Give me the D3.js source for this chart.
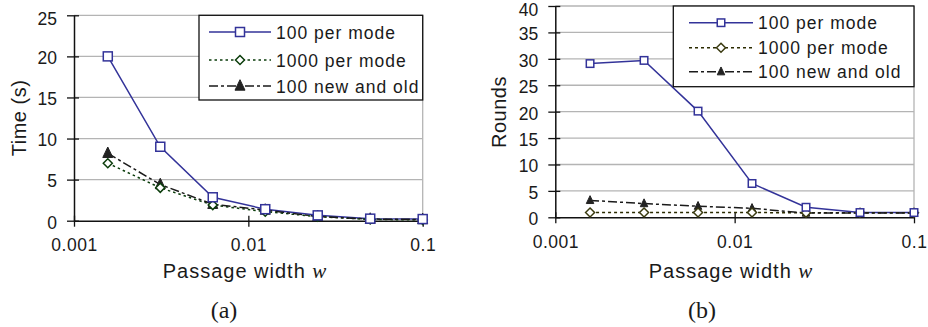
<!DOCTYPE html>
<html>
<head>
<meta charset="utf-8">
<script src="https://cdn.jsdelivr.net/npm/d3@7"></script>
<style>
  html, body { margin: 0; padding: 0; background: #fff; }
  svg { display: block; }
  text { font-family: "Liberation Sans", Arial, sans-serif; fill: #1a1a1a; }
</style>
</head>
<body>
<svg id="chart" width="928" height="327"></svg>
<script>
// ---- data ----
const passageWidths = [0.0015625, 0.003125, 0.00625, 0.0125, 0.025, 0.05, 0.1];
const seriesNames = ["100 per mode", "1000 per mode", "100 new and old"];
const timePerMode100 = [20.0, 9.0, 2.85, 1.4, 0.65, 0.25, 0.2];
const timePerMode1000 = [7.0, 4.0, 1.9, 1.1, 0.5, 0.15, 0.1];
const timeNewOld100 = [8.2, 4.4, 2.0, 1.3, 0.5, 0.2, 0.15];
const roundsPerMode100 = [29.1, 29.7, 20.1, 6.4, 1.9, 0.9, 0.9];
const roundsPerMode1000 = [0.9, 0.9, 0.9, 0.9, 0.85, 0.85, 0.85];
const roundsNewOld100 = [3.2, 2.6, 2.1, 1.7, 0.8, 0.8, 0.8];
const xTicks = [0.001, 0.01, 0.1];
const xTickLabels = ["0.001", "0.01", "0.1"];
const timeTicks = [0, 5, 10, 15, 20, 25];
const roundsTicks = [0, 5, 10, 15, 20, 25, 30, 35, 40];

const svg = d3.select("#chart");

function drawPanel(cfg) {
  const g = svg.append("g");
  const x = d3.scaleLog().domain([0.001, 0.1]).range([cfg.left, cfg.right]);
  const y = d3.scaleLinear().domain([0, cfg.yMax]).range([cfg.bottom, cfg.top]);

  // gridlines
  g.append("g").selectAll("line").data(cfg.yTicks.filter(d => d > 0)).join("line")
    .attr("x1", cfg.left).attr("x2", cfg.right)
    .attr("y1", d => y(d)).attr("y2", d => y(d))
    .attr("stroke", "#b4b4b4").attr("stroke-width", 1.3);
  // right border
  g.append("line").attr("x1", cfg.right).attr("x2", cfg.right)
    .attr("y1", cfg.top).attr("y2", cfg.bottom)
    .attr("stroke", "#b4b4b4").attr("stroke-width", 1.3);

  // y axis
  const yAxis = d3.axisLeft(y).tickValues(cfg.yTicks).tickSize(7).tickPadding(10).tickSizeOuter(0);
  const ya = g.append("g").attr("transform", `translate(${cfg.left},0)`).call(yAxis);
  ya.select(".domain").attr("stroke", "#111").attr("stroke-width", 1.5);
  ya.selectAll(".tick line").attr("stroke", "#111").attr("stroke-width", 1.3).attr("x2", -7).attr("x1", 5);
  ya.selectAll(".tick text").attr("font-size", 17.5).attr("fill", "#1a1a1a")
    .attr("font-family", "Liberation Sans, Arial, sans-serif").attr("x", -17)
    .attr("dy", d => d === cfg.yMax ? "0.55em" : "0.42em");

  // x axis
  const xAxis = d3.axisBottom(x).tickValues(xTicks).tickFormat((d, i) => xTickLabels[i])
    .tickSize(6).tickPadding(12).tickSizeOuter(0);
  const xa = g.append("g").attr("transform", `translate(0,${cfg.bottom})`).call(xAxis);
  xa.select(".domain").attr("stroke", "#111").attr("stroke-width", 1.5);
  xa.selectAll(".tick line").attr("stroke", "#111").attr("stroke-width", 1.3).attr("y1", -5);
  xa.selectAll(".tick text").attr("font-size", 17.5).attr("fill", "#1a1a1a")
    .attr("font-family", "Liberation Sans, Arial, sans-serif").attr("letter-spacing", 0.5);

  // series
  const line = d3.line().x(d => x(d[0])).y(d => y(d[1]));
  cfg.series.forEach(s => {
    const pts = passageWidths.map((w, i) => [w, s.values[i]]);
    g.append("path").datum(pts).attr("d", line)
      .attr("fill", "none").attr("stroke", s.color).attr("stroke-width", s.width)
      .attr("stroke-dasharray", s.dash || null);
  });
  cfg.series.slice().reverse().forEach(s => {
    passageWidths.forEach((w, i) => drawMarker(g, s, x(w), y(s.values[i])));
  });

  // axis titles
  const xt = g.append("text").attr("x", cfg.xTitleX).attr("y", cfg.xTitleY)
    .attr("text-anchor", "middle").attr("font-size", 20).attr("letter-spacing", 1);
  xt.append("tspan").text("Passage width ");
  xt.append("tspan").text("w").attr("font-family", "Liberation Serif, Times New Roman, serif")
    .attr("font-style", "italic").attr("font-size", 21);
  g.append("text").attr("transform", `translate(${cfg.yTitleX},${cfg.yTitleY}) rotate(-90)`)
    .attr("text-anchor", "middle").attr("font-size", 20).attr("letter-spacing", 0.5).text(cfg.yTitle);

  // panel label
  g.append("text").attr("x", cfg.labelX).attr("y", 318).attr("text-anchor", "middle")
    .style("font-family", "'Liberation Serif','Times New Roman',serif").style("font-size", "24px")
    .text(cfg.label);

  // legend
  const L = cfg.legend;
  g.append("rect").attr("x", L.x0).attr("y", L.y0).attr("width", L.x1 - L.x0).attr("height", L.y1 - L.y0)
    .attr("fill", "#fff").attr("stroke", "#111").attr("stroke-width", 1.3);
  cfg.series.forEach((s, i) => {
    const yy = L.rows[i];
    g.append("line").attr("x1", L.lx0).attr("x2", L.lx1).attr("y1", yy).attr("y2", yy)
      .attr("stroke", s.color).attr("stroke-width", s.width).attr("stroke-dasharray", s.dash || null);
    drawMarker(g, s, (L.lx0 + L.lx1) / 2, yy, true);
    g.append("text").attr("x", L.tx).attr("y", yy + 6.5).attr("font-size", 17.5)
      .attr("letter-spacing", 1).text(seriesNames[i]);
  });
}

function drawMarker(g, s, cx, cy) {
  const r = s.size / 2;
  if (s.marker === "square") {
    g.append("rect").attr("x", cx - r).attr("y", cy - r).attr("width", s.size).attr("height", s.size)
      .attr("fill", "#fff").attr("stroke", s.color).attr("stroke-width", 1.5);
  } else if (s.marker === "diamond") {
    g.append("path").attr("d", `M${cx},${cy - r}L${cx + r},${cy}L${cx},${cy + r}L${cx - r},${cy}Z`)
      .attr("fill", "#fff").attr("stroke", s.mcolor || s.color).attr("stroke-width", 1.5);
  } else {
    const h = s.size * 1.05;
    g.append("path").attr("d", `M${cx},${cy - h * 0.6}L${cx + r},${cy + h * 0.4}L${cx - r},${cy + h * 0.4}Z`)
      .attr("fill", "#222").attr("stroke", "#222").attr("stroke-width", 1);
  }
}

drawPanel({
  left: 74, right: 422.7, top: 15.3, bottom: 220.7, yMax: 25, yTicks: timeTicks,
  yTitle: "Time (s)", yTitleX: 26, yTitleY: 118, xTitleX: 245, xTitleY: 278,
  label: "(a)", labelX: 224,
  series: [
    { values: timePerMode100, color: "#333399", width: 1.5, marker: "square", size: 9 },
    { values: timePerMode1000, color: "#0b3d0b", width: 1.5, dash: "2.5,3", marker: "diamond", size: 9, mcolor: "#0b3d0b" },
    { values: timeNewOld100, color: "#1a1a1a", width: 1.5, dash: "9,3,3,3", marker: "triangle", size: 10 }
  ],
  legend: { x0: 199, y0: 15.3, x1: 422.7, y1: 100, rows: [32, 60, 86], lx0: 209, lx1: 271, tx: 276 }
});

drawPanel({
  left: 555.3, right: 914, top: 6, bottom: 217.3, yMax: 40, yTicks: roundsTicks,
  yTitle: "Rounds", yTitleX: 506, yTitleY: 112, xTitleX: 731, xTitleY: 278,
  label: "(b)", labelX: 702,
  series: [
    { values: roundsPerMode100, color: "#333399", width: 1.5, marker: "square", size: 7.5 },
    { values: roundsPerMode1000, color: "#2b2b00", width: 1.5, dash: "3,3", marker: "diamond", size: 9, mcolor: "#3a3a10" },
    { values: roundsNewOld100, color: "#1a1a1a", width: 1.5, dash: "9,3,3,3", marker: "triangle", size: 7.5 }
  ],
  legend: { x0: 673.3, y0: 6, x1: 914, y1: 86.7, rows: [22.7, 47.7, 71.7], lx0: 689, lx1: 753, tx: 758 }
});
</script>
</body>
</html>
